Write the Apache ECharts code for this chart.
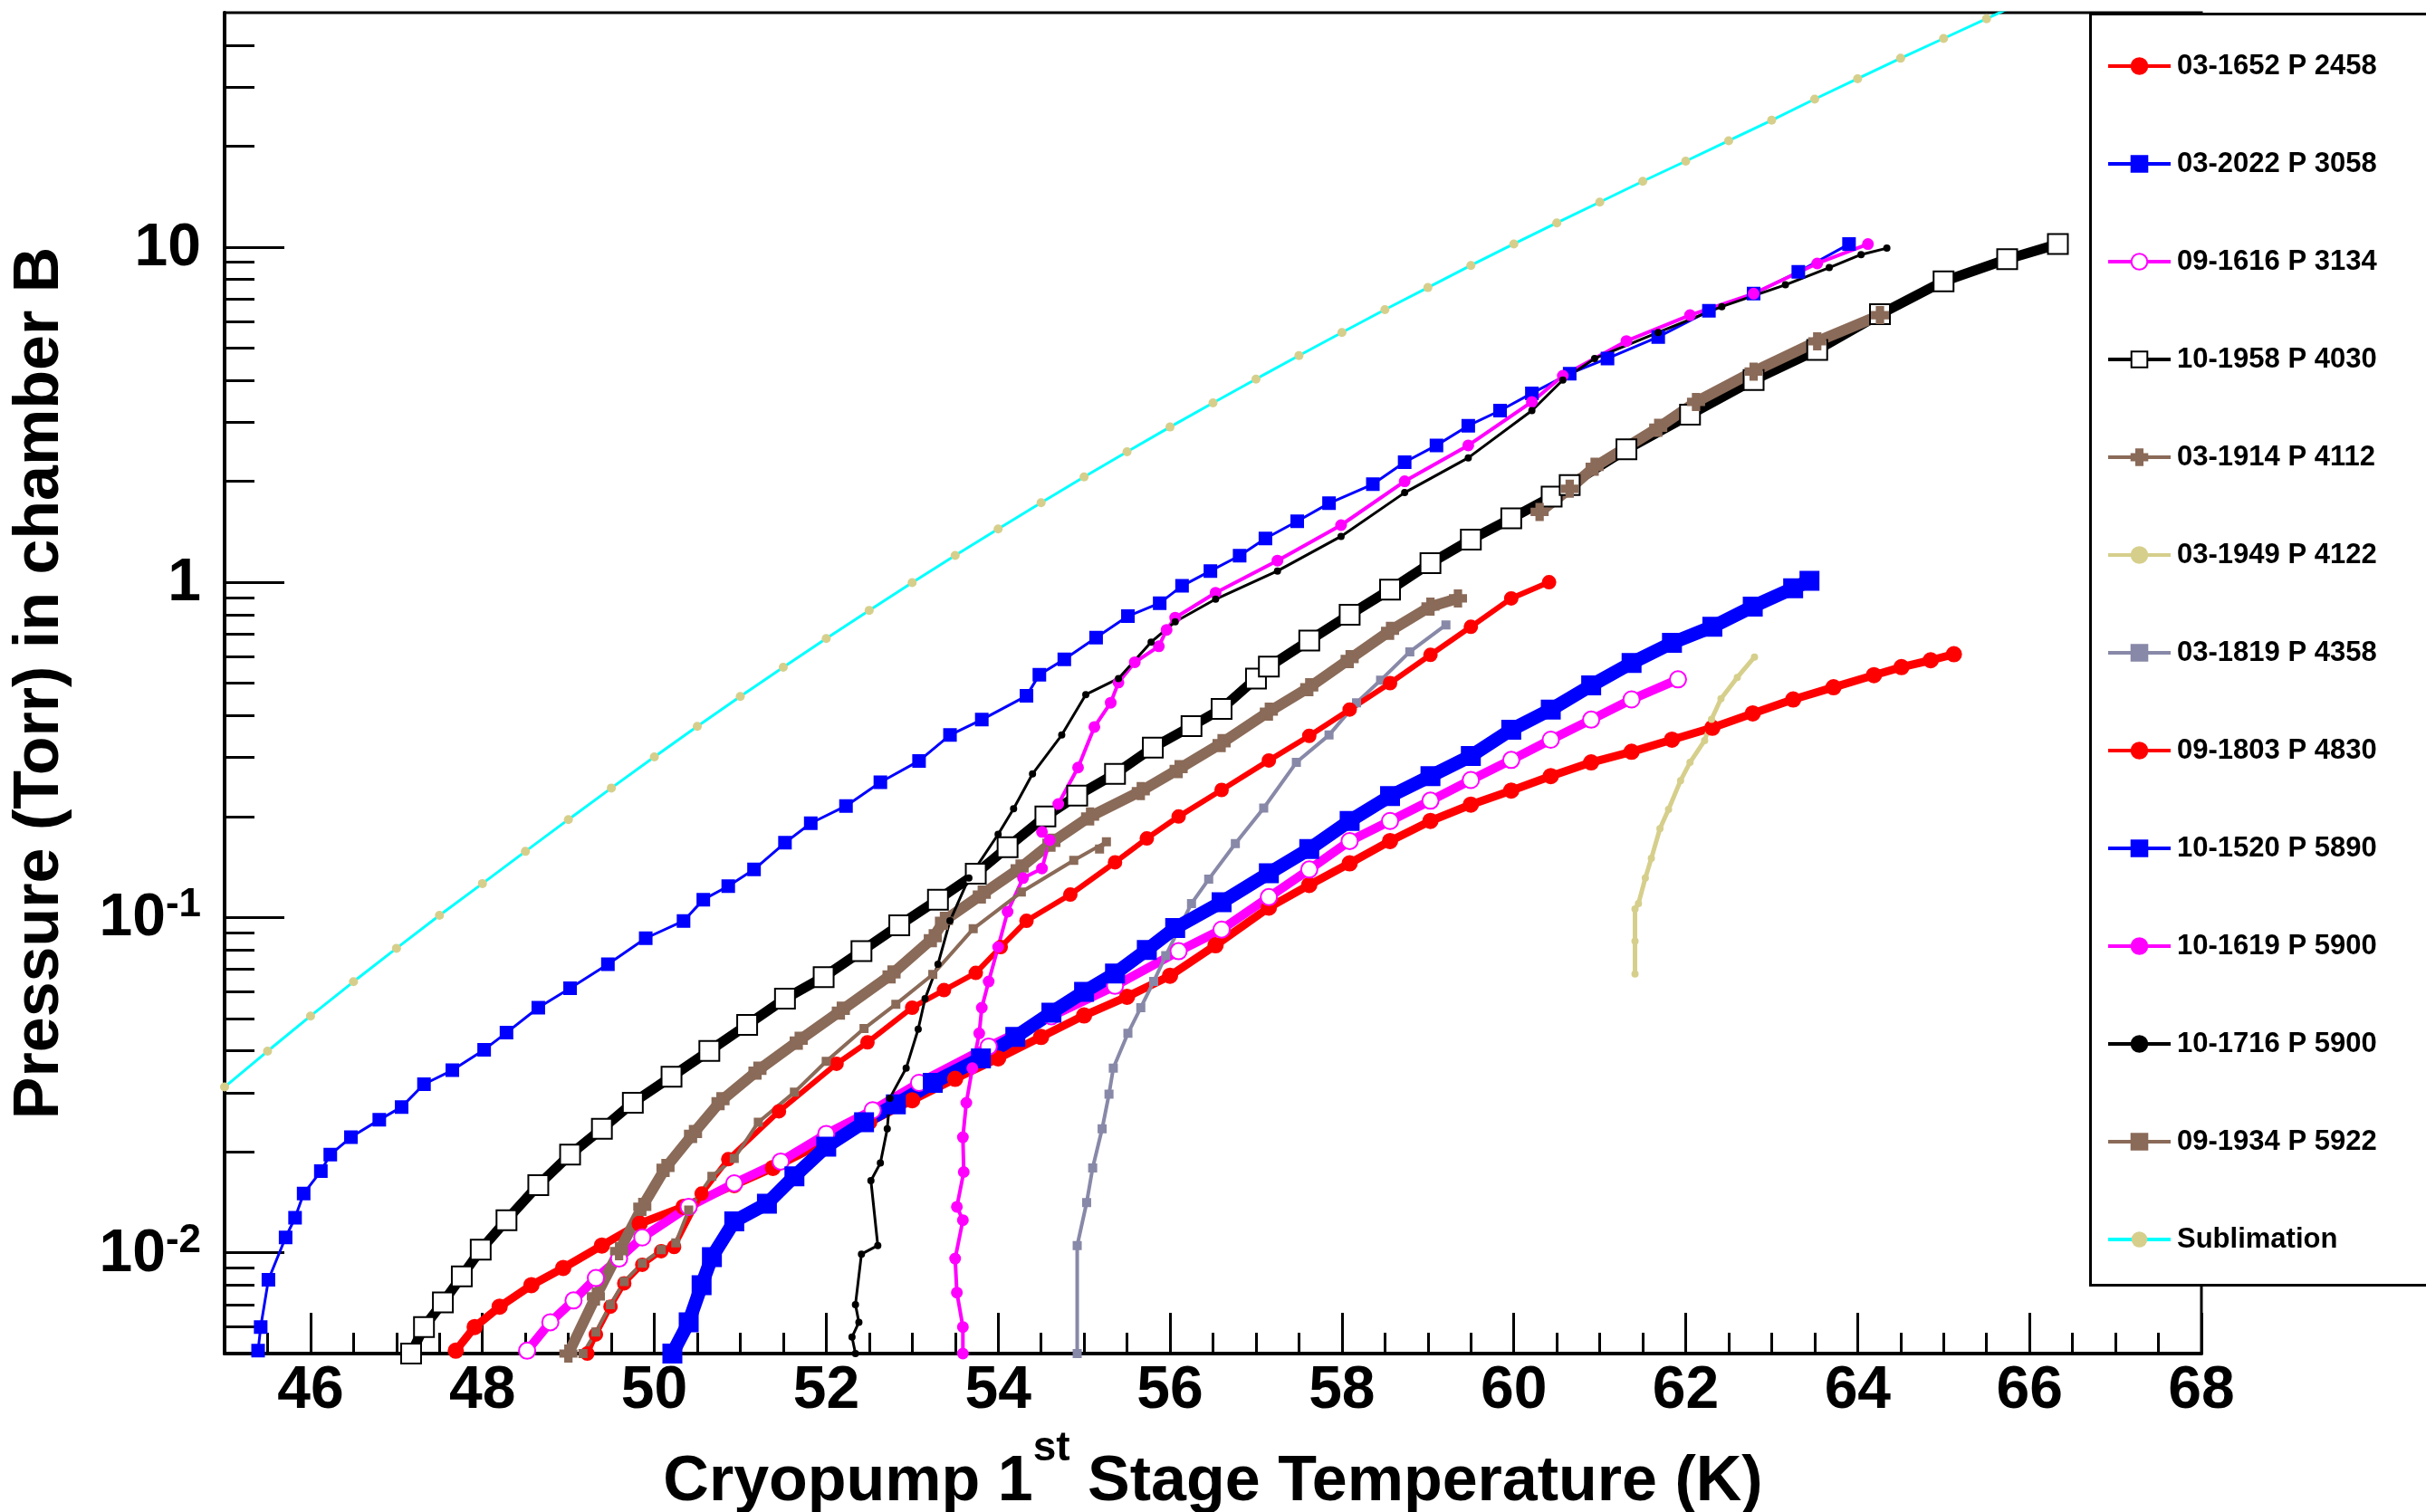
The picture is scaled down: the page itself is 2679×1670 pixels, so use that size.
<!DOCTYPE html>
<html>
<head>
<meta charset="utf-8">
<script src="https://cdn.jsdelivr.net/npm/echarts@6/dist/echarts.min.js"></script>
<style>html,body{margin:0;padding:0;background:#fff}#c{width:2679px;height:1670px}</style>
</head>
<body>
<div id="c"></div>
<script>
// ---------- DATA (temperature K, pressure Torr) ----------
const xMajorTicks = [46,48,50,52,54,56,58,60,62,64,66,68];
const xMinorTicks = [45.5,46.5,47,47.5,48.5,49,49.5,50.5,51,51.5,52.5,53,53.5,54.5,55,55.5,56.5,57,57.5,58.5,59,59.5,60.5,61,61.5,62.5,63,63.5,64.5,65,65.5,66.5,67,67.5];
const yMajorTicks = [0.01,0.1,1,10];
const yMinorTicks = [0.006,0.007,0.008,0.009,0.02,0.03,0.04,0.05,0.06,0.07,0.08,0.09,0.2,0.3,0.4,0.5,0.6,0.7,0.8,0.9,2,3,4,5,6,7,8,9,20,30,40];

const s03_1652 = [[47.69,0.0051],[47.91,0.0060],[48.20,0.0069],[48.57,0.0080],[48.94,0.0090],[49.39,0.0105],[49.83,0.0122],[50.34,0.0137],[50.93,0.0159],[51.38,0.0179],[52.0,0.0215],[52.5,0.0245],[53.0,0.0285],[53.5,0.0330],[54.0,0.038],[54.5,0.044],[55.0,0.051],[55.5,0.058],[56.0,0.067],[56.53,0.0826],[57.15,0.107],[57.62,0.125],[58.09,0.145],[58.56,0.169],[59.03,0.194],[59.50,0.217],[59.97,0.239],[60.43,0.264],[60.90,0.290],[61.37,0.312],[61.84,0.339],[62.31,0.368],[62.78,0.406],[63.25,0.447],[63.72,0.486],[64.19,0.528],[64.51,0.558],[64.85,0.585],[65.12,0.61]];
const s03_2022 = [[45.39,0.0051],[45.42,0.0060],[45.51,0.0083],[45.71,0.0111],[45.82,0.0127],[45.92,0.0150],[46.12,0.0175],[46.23,0.0196],[46.47,0.0221],[46.80,0.0249],[47.06,0.0272],[47.32,0.0318],[47.65,0.0350],[48.02,0.0403],[48.28,0.0453],[48.65,0.0538],[49.02,0.0615],[49.46,0.0725],[49.90,0.0867],[50.34,0.0976],[50.57,0.113],[50.86,0.124],[51.16,0.139],[51.52,0.167],[51.82,0.191],[52.23,0.215],[52.63,0.253],[53.08,0.293],[53.44,0.350],[53.81,0.389],[54.33,0.458],[54.48,0.530],[54.77,0.589],[55.14,0.683],[55.51,0.792],[55.88,0.866],[56.14,0.975],[56.47,1.08],[56.81,1.20],[57.11,1.35],[57.48,1.52],[57.85,1.72],[58.36,1.96],[58.73,2.28],[59.10,2.56],[59.47,2.93],[59.84,3.25],[60.21,3.66],[60.65,4.19],[61.09,4.65],[61.68,5.39],[62.27,6.45],[62.79,7.26],[63.31,8.43],[63.90,10.2]];
const s09_1616 = [[48.52,0.0051],[48.79,0.0062],[49.06,0.0072],[49.32,0.0084],[49.59,0.0096],[49.86,0.0111],[50.40,0.0137],[50.93,0.0161],[51.47,0.0187],[52.00,0.0226],[52.54,0.0266],[53.08,0.0321],[53.89,0.0412],[54.62,0.0507],[55.36,0.0625],[56.10,0.0793],[56.60,0.0920],[57.15,0.115],[57.62,0.139],[58.09,0.169],[58.56,0.194],[59.03,0.223],[59.50,0.257],[59.97,0.295],[60.43,0.339],[60.90,0.389],[61.37,0.447],[61.91,0.513]];
const s10_1958 = [[47.17,0.0050],[47.32,0.0060],[47.54,0.0071],[47.76,0.0085],[47.98,0.0102],[48.28,0.0125],[48.65,0.0159],[49.02,0.0196],[49.39,0.0234],[49.75,0.0280],[50.20,0.0335],[50.64,0.0400],[51.08,0.0478],[51.52,0.0572],[51.97,0.0664],[52.41,0.0793],[52.85,0.0948],[53.30,0.113],[53.74,0.135],[54.11,0.162],[54.55,0.200],[54.92,0.231],[55.36,0.268],[55.80,0.321],[56.25,0.372],[56.60,0.419],[57.00,0.516],[57.15,0.56],[57.62,0.67],[58.09,0.80],[58.56,0.95],[59.03,1.14],[59.50,1.34],[59.97,1.55],[60.44,1.80],[60.65,1.95],[61.31,2.49],[62.05,3.16],[62.79,4.01],[63.53,4.93],[64.26,6.3],[65.00,7.9],[65.74,9.2],[66.33,10.2]];
const s03_1914 = [[49.0,0.0050],[49.32,0.0074],[49.59,0.0101],[49.86,0.0137],[50.13,0.0179],[50.45,0.0226],[50.77,0.0283],[51.20,0.0349],[51.68,0.0429],[52.17,0.0527],[52.76,0.0676],[53.24,0.0867],[53.37,0.0977],[53.81,0.117],[54.25,0.140],[54.62,0.167],[55.07,0.200],[55.66,0.238],[56.10,0.277],[56.60,0.331],[57.15,0.411],[57.62,0.486],[58.09,0.590],[58.56,0.716],[59.03,0.846],[59.35,0.895],null,[60.3,1.62],[60.65,1.90],[60.94,2.21],[61.68,2.89],[62.12,3.45],[62.79,4.25],[63.53,5.23],[64.26,6.26]];
const s03_1949 = [[61.41,0.0678],[61.41,0.085],[61.41,0.106],[61.45,0.110],[61.53,0.131],[61.60,0.150],[61.70,0.184],[61.80,0.21],[61.94,0.256],[62.05,0.29],[62.22,0.337],[62.30,0.39],[62.41,0.449],[62.60,0.52],[62.80,0.598]];
const s03_1819 = [[54.92,0.0050],[54.92,0.0105],[55.03,0.0141],[55.10,0.0179],[55.21,0.0234],[55.29,0.0297],[55.34,0.0355],[55.51,0.0451],[55.66,0.0538],[55.81,0.0644],[55.95,0.0769],[56.10,0.092],[56.25,0.110],[56.45,0.130],[56.76,0.166],[57.09,0.212],[57.47,0.29],[57.85,0.35],[58.17,0.437],[58.45,0.51],[58.79,0.62],[59.21,0.746]];
const s09_1803 = [[49.22,0.0050],[49.32,0.0057],[49.49,0.0069],[49.65,0.0081],[49.86,0.0092],[50.08,0.0101],[50.23,0.0104],[50.55,0.0150],[50.86,0.0190],[51.45,0.0264],[52.12,0.0366],[52.48,0.0424],[53.00,0.0538],[53.37,0.0607],[53.74,0.0683],[54.03,0.0816],[54.33,0.0977],[54.84,0.117],[55.36,0.146],[55.73,0.172],[56.10,0.200],[56.60,0.240],[57.15,0.294],[57.62,0.348],[58.09,0.417],[58.56,0.50],[59.03,0.607],[59.50,0.736],[59.97,0.895],[60.41,1.0]];
const s10_1520 = [[50.21,0.0050],[50.40,0.0062],[50.55,0.0080],[50.67,0.0097],[50.93,0.0124],[51.31,0.0140],[51.63,0.0169],[52.00,0.0207],[52.44,0.0245],[52.81,0.0277],[53.24,0.0321],[53.80,0.038],[54.20,0.044],[54.62,0.052],[55.00,0.060],[55.36,0.068],[55.73,0.080],[56.06,0.093],[56.60,0.111],[57.15,0.1355],[57.62,0.160],[58.09,0.194],[58.56,0.230],[59.03,0.264],[59.50,0.303],[59.97,0.363],[60.43,0.417],[60.90,0.492],[61.37,0.574],[61.84,0.659],[62.31,0.736],[62.78,0.846],[63.25,0.959],[63.44,1.01]];
const s10_1619 = [[53.59,0.0050],[53.59,0.0060],[53.52,0.0076],[53.50,0.0096],[53.59,0.0125],[53.52,0.0137],[53.60,0.0174],[53.59,0.0221],[53.63,0.0280],[53.70,0.0355],[53.78,0.0451],[53.81,0.0538],[53.89,0.0644],[54.00,0.0816],[54.11,0.104],[54.29,0.131],[54.51,0.140],[54.60,0.170],[54.51,0.180],[54.70,0.218],[54.93,0.280],[55.12,0.370],[55.31,0.437],[55.40,0.502],[55.59,0.577],[55.87,0.644],[55.96,0.721],[56.06,0.784],[56.53,0.93],[57.25,1.16],[57.99,1.48],[58.73,2.0],[59.47,2.56],[60.21,3.45],[60.57,4.13],[61.31,5.24],[62.05,6.26],[62.79,7.26],[63.53,8.93],[64.12,10.2]];
const s10_1716 = [[52.34,0.0050],[52.30,0.0056],[52.38,0.0062],[52.34,0.0070],[52.41,0.0099],[52.60,0.0105],[52.52,0.0164],[52.63,0.0185],[52.71,0.0234],[52.74,0.0289],[52.93,0.0355],[53.07,0.0464],[53.15,0.0572],[53.30,0.0725],[53.44,0.0977],[53.66,0.131],[54.00,0.177],[54.18,0.211],[54.40,0.268],[54.74,0.350],[55.02,0.462],[55.40,0.516],[55.78,0.663],[56.06,0.762],[56.53,0.89],[57.25,1.08],[57.99,1.37],[58.73,1.85],[59.47,2.35],[60.21,3.25],[60.57,4.01],[60.94,4.65],[61.68,5.56],[62.42,6.64],[63.16,7.71],[63.67,8.68],[64.04,9.49],[64.34,9.92]];
const s09_1934 = [[49.17,0.0050],[49.32,0.0058],[49.49,0.0070],[49.65,0.0082],[49.86,0.0093],[50.08,0.0102],[50.25,0.0107],[50.40,0.0134],[50.67,0.0169],[50.93,0.0191],[51.21,0.0245],[51.63,0.0301],[52.00,0.0372],[52.44,0.0466],[52.81,0.0551],[53.24,0.0676],[53.71,0.0925],[54.27,0.119],[54.88,0.148],[55.26,0.168],[55.18,0.160]];
const sSublimation = [[45.0,0.0312],[45.5,0.0399],[46.0,0.0508],[46.5,0.0643],[47.0,0.0809],[47.5,0.1014],[48.0,0.1262],[48.5,0.1574],[49.0,0.1959],[49.5,0.2432],[50.0,0.3013],[50.5,0.3715],[51.0,0.4560],[51.5,0.5572],[52.0,0.6792],[52.5,0.8241],[53.0,0.9977],[53.5,1.202],[54.0,1.442],[54.5,1.726],[55.0,2.061],[55.5,2.449],[56.0,2.904],[56.5,3.428],[57.0,4.036],[57.5,4.742],[58.0,5.559],[58.5,6.501],[59.0,7.568],[59.5,8.810],[60.0,10.21],[60.5,11.80],[61.0,13.61],[61.5,15.70],[62.0,18.03],[62.5,20.75],[63.0,23.88],[63.5,27.61],[64.0,31.77],[64.5,36.56],[65.0,41.88],[65.5,47.97],[66.0,54.95]];

// ---------- STYLE ----------
const FONT = 'Liberation Sans';
const PLUS = 'path://M3,0H7V3H10V7H7V10H3V7H0V3H3Z';
function mk(name, data, color, symbol, size, lw, extra) {
  const s = {
    name, type: 'line', data, symbol, symbolSize: size,
    showSymbol: true, connectNulls: false, animation: false,
    lineStyle: { color, width: lw },
    itemStyle: { color, borderColor: color, borderWidth: 2 },
    emphasis: { disabled: true }, z: 3
  };
  return Object.assign(s, extra || {});
}
const series = [
  mk('03-1652 P 2458', s03_1652, '#ff0000', 'circle', 16, 9),
  mk('03-2022 P 3058', s03_2022, '#0000ff', 'rect', 13, 3),
  mk('09-1616 P 3134', s09_1616, '#ff00ff', 'emptyCircle', 18, 10, { itemStyle: { color: '#ff00ff', borderColor: '#ff00ff', borderWidth: 4 } }),
  mk('10-1958 P 4030', s10_1958, '#000000', 'emptyRect', 22, 11, { itemStyle: { color: '#000', borderColor: '#000', borderWidth: 4 } }),
  mk('03-1914 P 4112', s03_1914, '#8a6a58', PLUS, 18, 12),
  mk('03-1949 P 4122', s03_1949, '#d6cf8c', 'circle', 6, 5),
  mk('03-1819 P 4358', s03_1819, '#8888a8', 'rect', 8, 4),
  mk('09-1803 P 4830', s09_1803, '#ff0000', 'circle', 14, 6),
  mk('10-1520 P 5890', s10_1520, '#0000ff', 'rect', 20, 15),
  mk('10-1619 P 5900', s10_1619, '#ff00ff', 'circle', 11, 4),
  mk('10-1716 P 5900', s10_1716, '#000000', 'circle', 6, 3),
  mk('09-1934 P 5922', s09_1934, '#8a6a58', 'rect', 8, 4),
  mk('Sublimation', sSublimation, '#00ffff', 'circle', 10, 3, { itemStyle: { color: '#d6cf8c', borderColor: '#d6cf8c', borderWidth: 0 } })
];

function yFmt(v) {
  const e = Math.round(Math.log10(v));
  if (e === 1) return '{b|10}';
  if (e === 0) return '{b|1}';
  return '{b|10}{s|' + e + '}';
}

const option = {
  backgroundColor: '#fff',
  animation: false,
  textStyle: { fontFamily: FONT },
  grid: { left: 248, right: 248, top: 14, bottom: 175, show: true, borderColor: '#000', borderWidth: 3, backgroundColor: 'transparent', containLabel: false, outerBoundsMode: 'none' },
  xAxis: [
    {
      type: 'value', min: 45, max: 68, position: 'bottom',
      axisLine: { show: true, onZero: false, lineStyle: { color: '#000', width: 4 } },
      axisTick: { show: true, inside: true, length: 45, lineStyle: { color: '#000', width: 3 }, customValues: xMajorTicks },
      axisLabel: { show: true, customValues: xMajorTicks, fontSize: 66, fontWeight: 'bold', color: '#000', fontFamily: FONT, margin: 9 },
      splitLine: { show: false },
      name: '{m|Cryopump 1}{s|st}{m| Stage Temperature (K)}',
      nameLocation: 'middle', nameGap: 82,
      nameTextStyle: {
        fontFamily: FONT, fontWeight: 'bold', color: '#000', fontSize: 70,
        rich: {
          m: { fontFamily: FONT, fontWeight: 'bold', fontSize: 70, lineHeight: 96, verticalAlign: 'bottom', color: '#000' },
          s: { fontFamily: FONT, fontWeight: 'bold', fontSize: 46, lineHeight: 46, verticalAlign: 'top', color: '#000' }
        }
      }
    },
    {
      type: 'value', min: 45, max: 68, position: 'bottom',
      axisLine: { show: false },
      axisTick: { show: true, inside: true, length: 23, lineStyle: { color: '#000', width: 3 }, customValues: xMinorTicks },
      axisLabel: { show: false },
      splitLine: { show: false }
    }
  ],
  yAxis: [
    {
      type: 'log', logBase: 10, min: 0.005, max: 50, position: 'left',
      axisLine: { show: true, onZero: false, lineStyle: { color: '#000', width: 4 } },
      axisTick: { show: true, inside: true, length: 66, lineStyle: { color: '#000', width: 3 }, customValues: yMajorTicks },
      axisLabel: {
        show: true, customValues: yMajorTicks, margin: 26, formatter: yFmt,
        rich: {
          b: { fontFamily: FONT, fontWeight: 'bold', fontSize: 66, color: '#000', lineHeight: 70, verticalAlign: 'bottom' },
          s: { fontFamily: FONT, fontWeight: 'bold', fontSize: 44, color: '#000', lineHeight: 44, verticalAlign: 'top' }
        }
      },
      splitLine: { show: false },
      name: 'Pressure (Torr) in chamber B',
      nameLocation: 'middle', nameRotate: 90, nameGap: 168,
      nameTextStyle: { fontFamily: FONT, fontWeight: 'bold', fontSize: 70, color: '#000' }
    },
    {
      type: 'log', logBase: 10, min: 0.005, max: 50, position: 'left',
      axisLine: { show: false },
      axisTick: { show: true, inside: true, length: 33, lineStyle: { color: '#000', width: 3 }, customValues: yMinorTicks },
      axisLabel: { show: false },
      splitLine: { show: false }
    }
  ],
  legend: {
    orient: 'vertical', left: 2321, top: 52, z: 30,
    itemWidth: 69, itemHeight: 22, itemGap: 76,
    lineStyle: { width: 4 },
    textStyle: { fontFamily: FONT, fontWeight: 'bold', fontSize: 31, color: '#000', lineHeight: 32, padding: [0, 0, 0, 2] },
    data: series.map(s => s.name),
    selectedMode: false
  },
  graphic: [{
    type: 'rect', z: 25, left: 2307, top: 14,
    shape: { width: 420, height: 1404 },
    style: { fill: '#fff', stroke: '#000', lineWidth: 3 }
  }],
  series: series
};

const chart = echarts.init(document.getElementById('c'), null, { renderer: 'canvas', width: 2679, height: 1670 });
chart.setOption(option);
</script>
</body>
</html>
